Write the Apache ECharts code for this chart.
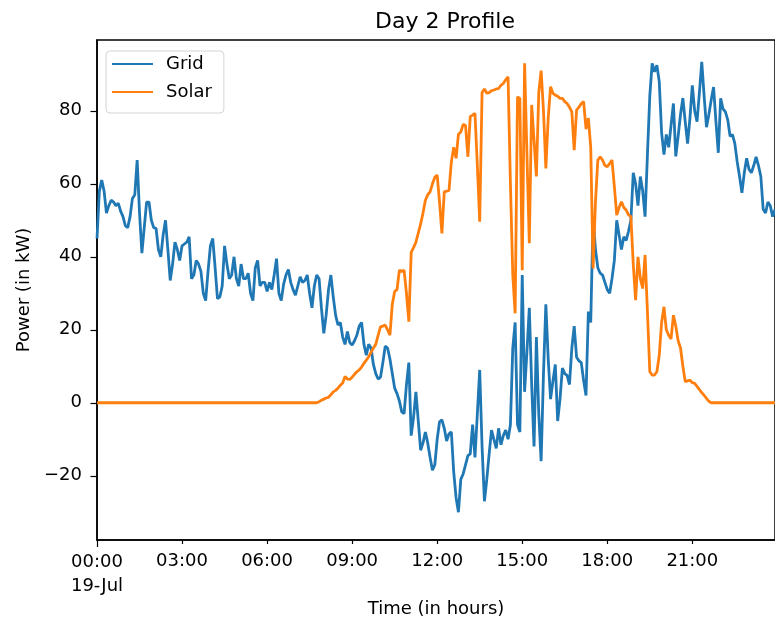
<!DOCTYPE html>
<html>
<head>
<meta charset="utf-8">
<title>Day 2 Profile</title>
<script src="https://cdn.jsdelivr.net/npm/echarts@6/dist/echarts.min.js"></script>
<style>
  html, body { margin: 0; padding: 0; background: #fff; }
  #chart1 { width: 775px; height: 623px; }
</style>
</head>
<body>
<div id="chart1"></div>
<script>
// 5 minute samples, 19-Jul 00:00 .. 23:55
var stepMinutes = 5;

var gridPower = [
  45, 58, 61, 58, 52, 54, 55.5, 55, 54, 54.7, 52.5, 51, 48.5, 48, 51, 56, 57, 66.5, 52, 41,
  48, 55, 55, 50, 48, 47.8, 42, 40, 46, 50, 42, 33.5, 38, 44, 42, 39, 43, 43.5, 44, 45.5,
  34, 35, 39, 38, 36, 30, 28, 36, 43, 45, 37, 28.5, 29, 32, 43, 38, 34, 35, 40, 34,
  32, 38, 34, 34, 35.5, 30, 28, 37, 39, 32, 33, 33, 30.5, 33, 31, 35, 39.5, 30, 28, 32.5,
  35, 36.5, 33, 31, 29.5, 32, 34.5, 33, 33.5, 35, 30, 26, 32, 35, 34, 26, 19, 24, 31, 35,
  29, 24, 21.3, 22, 18, 16, 19.5, 16.5, 15.8, 17, 18.5, 21, 22, 16, 13, 16, 15, 10.5, 8, 6.5,
  7, 11, 15.5, 15, 12, 8, 4, 2.5, 0.5, -2.5, -3, 5, 11, -9, -4, 3, -5, -13, -11, -8,
  -11, -15, -18.5, -17, -10, -5.2, -4.7, -7, -10.5, -8.5, -8, -19, -26, -30, -21, -19.5, -17, -14.5, -14, -6,
  -15, -3, 9, -12, -27, -21, -14, -7.5, -10, -12.5, -7, -11.5, -9, -7.5, -10, -6, 15, 22, -6, -8,
  35, 3, 14, 26, 5, -12, 18, -3, -16, 8, 27, 12, 1, 6, 10.5, -5, 1, 9.5, 8, 7.5,
  5, 15, 21, 12.5, 11.5, 11, 6, 2, 25, 22, 51, 42, 37, 35.5, 35, 33, 31, 30, 34, 39,
  50, 46, 42, 45.5, 44.5, 47, 50, 63, 60, 54, 62, 58, 51, 68, 84, 93, 90.7, 92.5, 88, 74,
  68, 73.5, 70, 76, 82, 67.5, 73, 79, 83.5, 77, 71, 78, 87, 80, 77, 85, 93.4, 84, 75.5, 79,
  83, 86.5, 77, 68.5, 83.4, 80.5, 79.7, 77.5, 73, 73.5, 71, 66, 62, 57.5, 63, 67, 64, 63, 65, 67.4,
  65, 62, 53, 52, 55, 54, 51, 53
];

var solarPower = [
  0, 0, 0, 0, 0, 0, 0, 0, 0, 0, 0, 0, 0, 0, 0, 0, 0, 0, 0, 0,
  0, 0, 0, 0, 0, 0, 0, 0, 0, 0, 0, 0, 0, 0, 0, 0, 0, 0, 0, 0,
  0, 0, 0, 0, 0, 0, 0, 0, 0, 0, 0, 0, 0, 0, 0, 0, 0, 0, 0, 0,
  0, 0, 0, 0, 0, 0, 0, 0, 0, 0, 0, 0, 0, 0, 0, 0, 0, 0, 0, 0,
  0, 0, 0, 0, 0, 0, 0, 0, 0, 0, 0, 0, 0, 0, 0.3, 0.7, 1, 1.3, 1.5, 2.2,
  3, 3.4, 4, 4.8, 5.4, 7.2, 6.5, 6.4, 7, 7.8, 8.5, 9, 9.8, 10.8, 11.7, 12.6, 13.8, 15, 16, 18.5,
  20.8, 21, 21.3, 20, 18.5, 27, 30.5, 31, 36.3, 36, 36.3, 30, 22.2, 41.2, 42.5, 44, 46.5, 49, 52, 55.5,
  57, 57.8, 60, 61.8, 62.4, 55, 46.4, 57.8, 58, 58.2, 66, 70, 67, 73.6, 74.2, 76.3, 76, 67.4, 78.4, 78.8,
  79.3, 65, 49.6, 85, 86, 84.8, 85, 85.5, 85.7, 86, 86.1, 87, 87.5, 88.5, 89.3, 60, 35, 24.5, 83.8, 83.4,
  36.3, 93, 68, 43.7, 81.6, 72, 62, 85, 91, 80, 64.2, 78, 86.6, 84.8, 84.3, 84, 83.4, 83.4, 82.5, 82,
  81, 79.7, 69.2, 80.2, 81, 82, 82.5, 75, 78, 70, 36.8, 55, 66.5, 67.4, 66.5, 65, 64.7, 65.5, 66.5, 59.2,
  51.4, 53.5, 55.1, 53.5, 52.8, 51.5, 51, 38, 28.1, 40, 34.1, 31.3, 40.5, 25, 8.5, 7.6, 7.6, 8.5, 13, 22,
  26.3, 20, 18.5, 17.5, 24, 21, 17, 15, 10, 5.8, 6, 6.2, 5.5, 5.3, 4.5, 3.6, 2.8, 2, 1.2, 0.4,
  0, 0, 0, 0, 0, 0, 0, 0, 0, 0, 0, 0, 0, 0, 0, 0, 0, 0, 0, 0,
  0, 0, 0, 0, 0, 0, 0, 0
];

var yTicks = [-20, 0, 20, 40, 60, 80];
var xTickLabels = ['00:00\n19-Jul', '03:00', '06:00', '09:00', '12:00', '15:00', '18:00', '21:00'];

var times = [];
for (var i = 0; i < gridPower.length; i++) {
    var m = i * stepMinutes;
    var hh = Math.floor(m / 60), mm = m % 60;
    times.push((hh < 10 ? '0' : '') + hh + ':' + (mm < 10 ? '0' : '') + mm);
}
var ticksEvery = 180 / stepMinutes;

var font = 'DejaVu Sans';
var myChart = echarts.init(document.getElementById('chart1'));

function tickLabel(v, idx) {
    return xTickLabels[Math.round(idx / ticksEvery)];
}

var option = {
    animation: false,
    backgroundColor: '#fff',
    title: {
        text: 'Day 2 Profile',
        left: 440,
        textAlign: 'center',
        top: 6,
        textStyle: { fontFamily: font, fontSize: 22, fontWeight: 'normal', color: '#000' }
    },
    legend: {
        orient: 'vertical',
        left: 106,
        top: 51,
        padding: [4, 12, 12, 5],
        itemWidth: 41,
        itemHeight: 18,
        itemGap: 10,
        backgroundColor: '#fff',
        borderColor: '#d3d3d3',
        borderWidth: 1,
        borderRadius: 4,
        itemStyle: { opacity: 0 },
        textStyle: { fontFamily: font, fontSize: 18, color: '#000', padding: [0, 0, 0, 8] },
        data: ['Grid', 'Solar']
    },
    grid: {
        left: 97,
        top: 40,
        width: 690,
        height: 500,
        show: true,
        borderColor: '#000',
        borderWidth: 1.5,
        backgroundColor: '#fff'
    },
    xAxis: [
        {
            type: 'category',
            data: times,
            boundaryGap: false,
            name: 'Time (in hours)',
            nameLocation: 'middle',
            nameGap: 60,
            nameTextStyle: { fontFamily: font, fontSize: 18, color: '#000' },
            axisLine: { onZero: false, lineStyle: { color: '#000', width: 1.5 } },
            axisTick: {
                interval: function (idx) { return idx > 0 && idx % ticksEvery === 0; },
                length: 4,
                lineStyle: { color: '#000', width: 1.2 }
            },
            axisLabel: {
                interval: function (idx) { return idx > 0 && idx % ticksEvery === 0; },
                margin: 9,
                fontFamily: font,
                fontSize: 18,
                lineHeight: 24,
                color: '#000',
                formatter: tickLabel
            },
            splitLine: { show: false }
        },
        {
            // major tick at the day boundary
            type: 'category',
            data: times,
            boundaryGap: false,
            position: 'bottom',
            axisLine: { show: false, onZero: false },
            axisTick: {
                interval: function (idx) { return idx === 0; },
                length: 7,
                lineStyle: { color: '#000', width: 1.2 }
            },
            axisLabel: {
                interval: function (idx) { return idx === 0; },
                margin: 10,
                fontFamily: font,
                fontSize: 18,
                lineHeight: 24,
                color: '#000',
                formatter: tickLabel
            },
            splitLine: { show: false }
        }
    ],
    yAxis: {
        type: 'value',
        min: -37.6,
        max: 99.4,
        name: 'Power (in kW)',
        nameLocation: 'middle',
        nameGap: 62,
        nameTextStyle: { fontFamily: font, fontSize: 18, color: '#000' },
        axisLine: { show: true, lineStyle: { color: '#000', width: 1.5 } },
        axisTick: { show: true, length: 6.5, customValues: yTicks, lineStyle: { color: '#000', width: 1.2 } },
        axisLabel: {
            customValues: yTicks,
            margin: 15,
            fontFamily: font,
            fontSize: 18,
            color: '#000',
            formatter: function (v) {
                return v < 0 ? '\u2212' + (-v) : String(v);
            }
        },
        splitLine: { show: false }
    },
    series: [
        {
            name: 'Grid',
            type: 'line',
            data: gridPower,
            showSymbol: false,
            symbol: 'none',
            color: '#1f77b4',
            lineStyle: { width: 2.8, color: '#1f77b4' }
        },
        {
            name: 'Solar',
            type: 'line',
            data: solarPower,
            showSymbol: false,
            symbol: 'none',
            color: '#ff7f0e',
            lineStyle: { width: 2.8, color: '#ff7f0e' }
        }
    ]
};
myChart.setOption(option);
</script>
</body>
</html>
